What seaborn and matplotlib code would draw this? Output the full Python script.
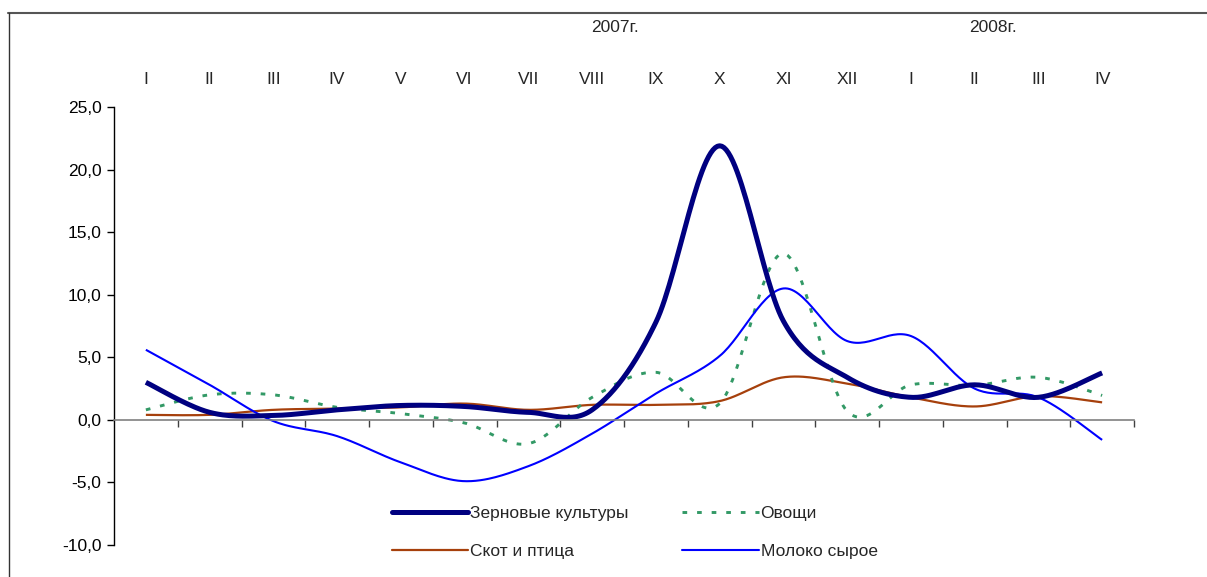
import numpy as np
import pandas as pd
import matplotlib
matplotlib.use("Agg")
import matplotlib.pyplot as plt
import matplotlib.transforms as mtrans
import seaborn as sns
from matplotlib.lines import Line2D
from matplotlib.ticker import FuncFormatter, FixedLocator

# ---- data ----
months = ["I", "II", "III", "IV", "V", "VI", "VII", "VIII", "IX", "X", "XI", "XII",
          "I", "II", "III", "IV"]
grain = [3.0, 0.6, 0.35, 0.8, 1.15, 1.07, 0.6, 0.8, 7.8, 21.9, 7.9, 3.4, 1.8, 2.8, 1.8, 3.75]
vegetables = [0.8, 2.0, 2.0, 1.0, 0.5, -0.25, -1.9, 1.8, 3.8, 1.3, 13.3, 0.7, 2.8, 2.75, 3.4, 1.95]
livestock = [0.4, 0.4, 0.8, 0.9, 1.0, 1.3, 0.8, 1.2, 1.2, 1.5, 3.4, 2.9, 1.8, 1.07, 1.9, 1.4]
milk = [5.6, 2.8, -0.1, -1.3, -3.4, -4.9, -3.7, -1.1, 2.1, 5.1, 10.5, 6.3, 6.7, 2.5, 1.8, -1.6]
series_names = ["Зерновые культуры", "Овощи", "Скот и птица", "Молоко сырое"]
year_labels = ["2007г.", "2008г."]


def smooth(xs, ys, n=30):
    """Excel-like smoothed curve (Bezier with Catmull-Rom control points)."""
    P = np.column_stack([xs, ys]).astype(float)
    Pe = np.vstack([P[0], P, P[-1]])
    out = []
    t = np.linspace(0, 1, n)[:, None]
    for i in range(len(P) - 1):
        p0, p3 = Pe[i + 1], Pe[i + 2]
        c1 = p0 + (Pe[i + 2] - Pe[i]) / 6.0
        c2 = p3 - (Pe[i + 3] - Pe[i + 1]) / 6.0
        seg = ((1 - t) ** 3) * p0 + 3 * ((1 - t) ** 2) * t * c1 + 3 * (1 - t) * t ** 2 * c2 + t ** 3 * p3
        out.append(seg if i == 0 else seg[1:])
    c = np.vstack(out)
    return c[:, 0], c[:, 1]


sns.set_style("white")
plt.rcParams["font.family"] = ["Liberation Sans", "DejaVu Sans"]

W, H = 1207, 577
FS = 12.5
fig = plt.figure(figsize=(W / 100, H / 100), dpi=100)
ax = fig.add_axes([114 / W, 1 - 545 / H, (1134 - 114) / W, (545 - 107) / H])

x = np.arange(len(months))
styles = [
    dict(color="#000080", lw=3.6, ls="-"),
    dict(color="#339966", lw=2.1, ls=(0, (1.6, 3.4))),
    dict(color="#A6400C", lw=1.6, ls="-"),
    dict(color="#0000FF", lw=1.5, ls="-"),
]
order = [2, 1, 3, 0]  # draw grain on top
data = [grain, vegetables, livestock, milk]
for k in order:
    sx, sy = smooth(x, data[k])
    df = pd.DataFrame({"x": sx, "y": sy})
    st = styles[k]
    sns.lineplot(data=df, x="x", y="y", ax=ax, sort=False, estimator=None,
                 color=st["color"], linewidth=st["lw"], linestyle=st["ls"],
                 solid_capstyle="butt", dash_capstyle="butt")

ax.set_xlim(-0.5, len(months) - 0.5)
ax.set_ylim(-10, 25)
ax.set_xlabel("")
ax.set_ylabel("")
ax.grid(False)

for s in ["top", "right"]:
    ax.spines[s].set_visible(False)
ax.spines["left"].set_color("black")
ax.spines["left"].set_linewidth(1.0)
ax.spines["bottom"].set_position(("data", 0))
ax.spines["bottom"].set_color("#808080")
ax.spines["bottom"].set_linewidth(1.2)

ax.xaxis.set_major_locator(FixedLocator(np.arange(0.5, len(months), 1.0)))
ax.tick_params(axis="x", direction="out", length=5, width=1, colors="#404040",
               labelbottom=False, bottom=True)
ax.set_yticks(np.arange(-10, 26, 5))
ax.yaxis.set_major_formatter(FuncFormatter(lambda v, p: f"{v:.1f}".replace(".", ",")))
ax.tick_params(axis="y", direction="out", length=5, width=1, colors="black",
               labelsize=FS, pad=4, left=True)

# month labels along the top
tr = mtrans.blended_transform_factory(ax.transData, fig.transFigure)
for xi, m in zip(x, months):
    ax.text(xi, 1 - 80 / H, m, transform=tr, ha="center", va="center", fontsize=FS)

fig.text(615 / W, 1 - 27 / H, year_labels[0], ha="center", va="center", fontsize=FS)
fig.text(993 / W, 1 - 27 / H, year_labels[1], ha="center", va="center", fontsize=FS)

# legend
handles = [Line2D([], [], color=styles[k]["color"], lw=styles[k]["lw"], ls=styles[k]["ls"])
           for k in [0, 2, 1, 3]]
labels = [series_names[k] for k in [0, 2, 1, 3]]
leg = fig.legend(handles, labels, ncol=2, loc="upper left",
                 bbox_to_anchor=(392 / W, 1 - 506 / H), frameon=False,
                 fontsize=FS, handlelength=4.4, handletextpad=0.1,
                 columnspacing=3.1, labelspacing=1.3, borderpad=0, borderaxespad=0)

# frame lines (top and left)
fig.add_artist(Line2D([8 / W, 1], [1 - 12.5 / H, 1 - 12.5 / H], transform=fig.transFigure,
                      color="#555555", lw=1.5))
fig.add_artist(Line2D([8.5 / W, 8.5 / W], [0, 1 - 12.5 / H], transform=fig.transFigure,
                      color="#333333", lw=1.0))

fig.savefig("out.png", dpi=100, facecolor="white")
